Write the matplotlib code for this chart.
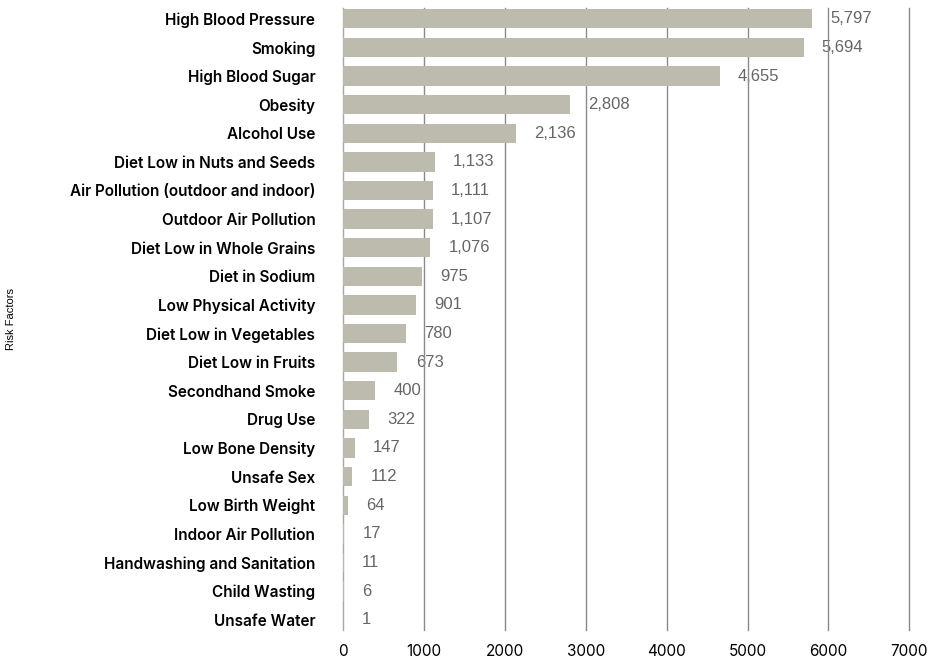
import matplotlib.pyplot as plt

# risk factors, top to bottom
factors = [
    "High Blood Pressure", "Smoking", "High Blood Sugar", "Obesity",
    "Alcohol Use", "Diet Low in Nuts and Seeds",
    "Air Pollution (outdoor and indoor)", "Outdoor Air Pollution",
    "Diet Low in Whole Grains", "Diet in Sodium", "Low Physical Activity",
    "Diet Low in Vegetables", "Diet Low in Fruits", "Secondhand Smoke",
    "Drug Use", "Low Bone Density", "Unsafe Sex", "Low Birth Weight",
    "Indoor Air Pollution", "Handwashing and Sanitation", "Child Wasting",
    "Unsafe Water",
]
deaths = [5797, 5694, 4655, 2808, 2136, 1133, 1111, 1107, 1076, 975, 901,
          780, 673, 400, 322, 147, 112, 64, 17, 11, 6, 1]
xticks = [0, 1000, 2000, 3000, 4000, 5000, 6000, 7000]

BAR_COLOR = "#bdbbad"

fig = plt.figure(figsize=(9.36, 6.58), dpi=100)
ax = fig.add_axes([0.3665, 0.043, 0.605, 0.945])

ypos = list(range(len(factors)))
# bars sit over the gridlines, the gridlines cross the value text
ax.barh(ypos, deaths, height=0.68, color=BAR_COLOR, zorder=3)

for y, v in zip(ypos, deaths):
    ax.text(v + 225, y, f"{v:,}", va="center", ha="left",
            fontsize=12, color="#666666", family="Liberation Sans", zorder=1)

ax.set_xlim(0, 7000)
ax.set_ylim(len(factors) - 0.65, -0.38)
ax.set_xticks(xticks)
ax.set_xticklabels([str(t) for t in xticks], fontsize=11, family="Inter")
ax.set_yticks(ypos)
ax.set_yticklabels(factors, fontsize=11, family="Inter", fontweight="semibold")
ax.tick_params(axis="both", length=0)
ax.tick_params(axis="x", pad=10)
ax.tick_params(axis="y", pad=20)

for t in xticks:
    ax.axvline(t, color="#8a8a8a" if t else "#a8a8a8", linewidth=1,
               zorder=2, clip_on=False)
for spine in ax.spines.values():
    spine.set_visible(False)

ax.set_ylabel("Risk Factors", fontsize=8, family="Liberation Sans")
ax.yaxis.set_label_coords(-0.578, 0.5)

fig.savefig("out.png", dpi=100)
